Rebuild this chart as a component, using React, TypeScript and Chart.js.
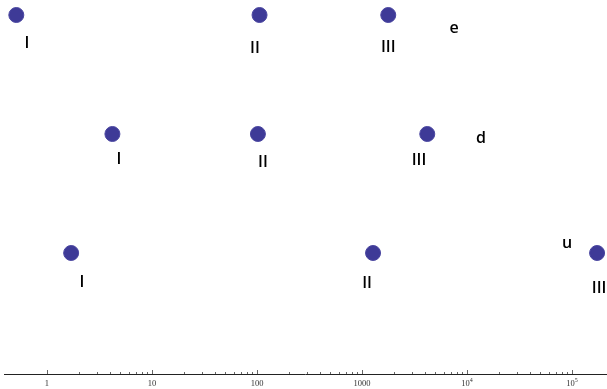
import React, { useEffect, useRef } from "react";
import { Chart, registerables } from "chart.js";

Chart.register(...registerables);

// Masses (x) per generation for each row (y level)
const rowNames = ["e", "d", "u"];
const rowLevels = [3, 2, 1];
const eMasses = [0.511, 105.7, 1777];
const dMasses = [4.2, 102, 4180];
const uMasses = [1.7, 1273, 173000];
const generations = ["I", "II", "III"];

// Label anchors (data coordinates)
const eLabelX = [0.645, 95.7, 1777];
const eLabelY = [2.76, 2.72, 2.73];
const dLabelX = [4.85, 114, 3490];
const dLabelY = [1.79, 1.76, 1.78];
const uLabelX = [2.15, 1116, 180700];
const uLabelY = [0.75, 0.74, 0.7];
const rowNameX = [7520, 13600, 89600];
const rowNameY = [2.89, 1.96, 1.08];

const tickValues = [1, 10, 100, 1000, 10000, 100000];
const tickBase = ["1", "10", "100", "1000", "10", "10"];
const tickExp = ["", "", "", "", "4", "5"];

const X_MIN = 0.39;
const X_MAX = 215000;

export default function App() {
  const ref = useRef<HTMLCanvasElement | null>(null);

  useEffect(() => {
    if (!ref.current) return;
    const rows = [eMasses, dMasses, uMasses];
    const points = rows.flatMap((arr, i) =>
      arr.map((m) => ({ x: m, y: rowLevels[i] }))
    );
    const labelSets = [
      [eLabelX, eLabelY],
      [dLabelX, dLabelY],
      [uLabelX, uLabelY],
    ];

    const overlay = {
      id: "overlay",
      afterDatasetsDraw(chart: any) {
        const { ctx, scales } = chart;
        const xs = scales.x;
        const ys = scales.y;
        const area = chart.chartArea;
        ctx.save();
        // axis line
        ctx.strokeStyle = "#222";
        ctx.lineWidth = 1;
        ctx.beginPath();
        ctx.moveTo(area.left, area.bottom + 0.5);
        ctx.lineTo(area.right, area.bottom + 0.5);
        ctx.stroke();
        // ticks
        ctx.strokeStyle = "#666";
        for (let d = 0; d <= 5; d++) {
          for (let m = 1; m <= 9; m++) {
            const v = m * Math.pow(10, d);
            if (v > X_MAX || (d === 5 && m > 1)) continue;
            const px = Math.round(xs.getPixelForValue(v)) + 0.5;
            const len = m === 1 ? 4 : 2;
            ctx.beginPath();
            ctx.moveTo(px, area.bottom);
            ctx.lineTo(px, area.bottom - len);
            ctx.stroke();
          }
        }
        // tick labels
        ctx.fillStyle = "#333";
        ctx.textBaseline = "alphabetic";
        tickValues.forEach((v, i) => {
          const px = xs.getPixelForValue(v);
          ctx.font = "8.5px 'Liberation Serif'";
          const bw = ctx.measureText(tickBase[i]).width;
          ctx.font = "6px 'Liberation Serif'";
          const ew = tickExp[i] ? ctx.measureText(tickExp[i]).width : 0;
          const start = px - (bw + ew) / 2;
          ctx.font = "8.5px 'Liberation Serif'";
          ctx.textAlign = "left";
          ctx.fillText(tickBase[i], start, area.bottom + 12);
          if (tickExp[i]) {
            ctx.font = "6px 'Liberation Serif'";
            ctx.fillText(tickExp[i], start + bw, area.bottom + 8);
          }
        });
        // text labels
        ctx.fillStyle = "#000";
        ctx.textAlign = "center";
        ctx.textBaseline = "middle";
        ctx.font = "600 16px 'Open Sans'";
        labelSets.forEach(([lx, ly]) => {
          lx.forEach((xv, j) => {
            ctx.fillText(
              generations[j],
              xs.getPixelForValue(xv),
              ys.getPixelForValue(ly[j])
            );
          });
        });
        rowNames.forEach((n, i) => {
          ctx.fillText(
            n,
            xs.getPixelForValue(rowNameX[i]),
            ys.getPixelForValue(rowNameY[i])
          );
        });
        ctx.restore();
      },
    };

    const chart = new Chart(ref.current, {
      type: "scatter",
      data: {
        datasets: [
          {
            data: points,
            backgroundColor: "#3e3a97",
            borderColor: "#4a46a0",
            borderWidth: 1,
            pointRadius: 7.5,
            pointHoverRadius: 7.5,
            clip: false,
          },
        ],
      },
      options: {
        animation: false,
        responsive: false,
        maintainAspectRatio: false,
        events: [],
        layout: { autoPadding: false, padding: { left: 4, right: 0, top: 15, bottom: 15 } },
        plugins: {
          legend: { display: false },
          tooltip: { enabled: false },
        },
        scales: {
          x: { type: "logarithmic", min: X_MIN, max: X_MAX, display: false },
          y: { type: "linear", min: -0.017, max: 3, display: false },
        },
      },
      plugins: [overlay],
    });
    return () => chart.destroy();
  }, []);

  return (
    <div style={{ position: "absolute", left: 0, top: 0, width: 607, height: 389 }}>
      <canvas ref={ref} width={607} height={389} style={{ width: 607, height: 389 }} />
    </div>
  );
}
